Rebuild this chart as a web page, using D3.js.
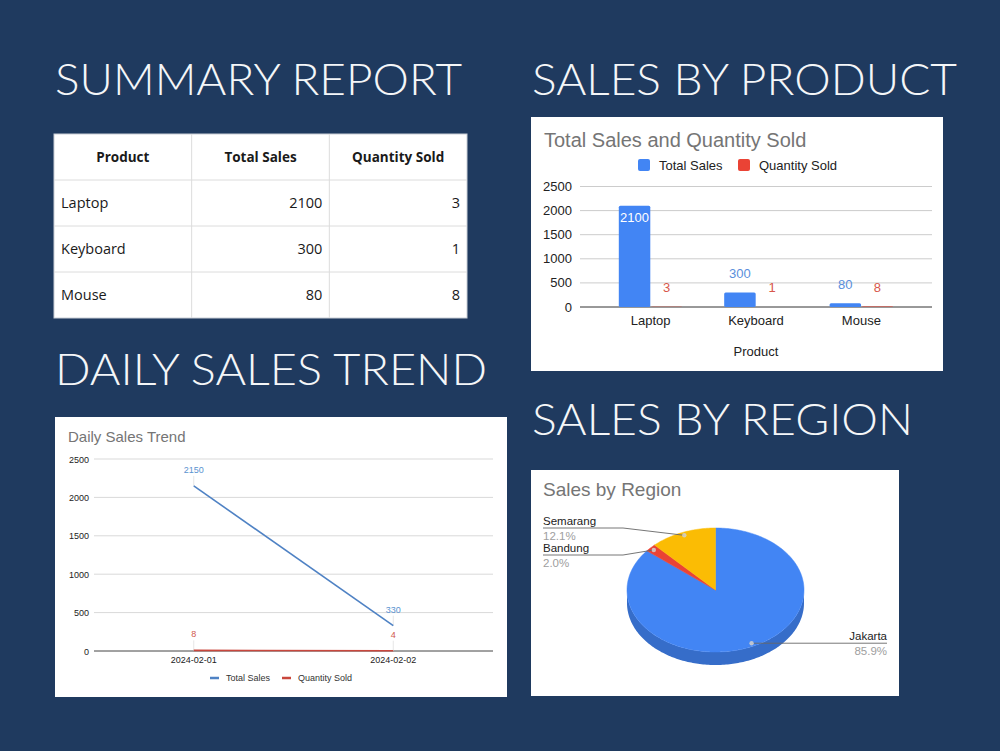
<!DOCTYPE html>
<html>
<head>
<meta charset="utf-8">
<script src="https://cdn.jsdelivr.net/npm/d3@7"></script>
<style>
  body { margin: 0; background: #1f3a5f; }
  svg { display: block; }
</style>
</head>
<body>
<div id="page"></div>
<script>
const products = ["Laptop", "Keyboard", "Mouse"];
const totalSales = [2100, 300, 80];
const quantitySold = [3, 1, 8];
const seriesNames = ["Total Sales", "Quantity Sold"];
const salesTicks = [0, 500, 1000, 1500, 2000, 2500];
const tableHeader = ["Product", "Total Sales", "Quantity Sold"];
const dates = ["2024-02-01", "2024-02-02"];
const dailySales = [2150, 330];
const dailyQty = [8, 4];
const regions = ["Jakarta", "Bandung", "Semarang"];
const regionSales = [2130, 50, 300];

const blue = "#4285f4", red = "#ea4335", yellow = "#fbbc04";
const arial = "'Liberation Sans', Arial, sans-serif";
const titleGrey = "#757575";

const svg = d3.select("#page").append("svg")
  .attr("width", 1000)
  .attr("height", 751);

svg.append("rect").attr("width", 1000).attr("height", 751).attr("fill", "#1f3a5f");

// big section headings
const headings = [
  { t: "SUMMARY REPORT", x: 55, y: 95, w: 407 },
  { t: "SALES BY PRODUCT", x: 532, y: 95, w: 425 },
  { t: "DAILY SALES TREND", x: 55, y: 385, w: 432 },
  { t: "SALES BY REGION", x: 532, y: 435, w: 381 }
];
svg.selectAll("text.heading")
  .data(headings)
  .enter().append("text")
  .attr("class", "heading")
  .attr("x", d => d.x)
  .attr("y", d => d.y)
  .attr("textLength", d => d.w)
  .attr("lengthAdjust", "spacingAndGlyphs")
  .attr("fill", "#f4f6f8")
  .style("font-family", "Lato, 'Open Sans', sans-serif")
  .style("font-weight", 300)
  .style("font-size", "44px")
  .text(d => d.t);

// ---- summary table ----
const tbl = svg.append("g");
const colX = d3.scaleBand().domain(tableHeader).range([54, 467]);
const rows = [tableHeader].concat(products.map((p, i) => [p, totalSales[i], quantitySold[i]]));
const rowY = d3.scaleBand().domain(d3.range(rows.length)).range([134, 318]);

tbl.append("rect")
  .attr("x", 54).attr("y", 134).attr("width", 413).attr("height", 184)
  .attr("fill", "#fff").attr("stroke", "#c9ced6");

tbl.selectAll("line.h")
  .data(d3.range(1, rows.length))
  .enter().append("line")
  .attr("x1", 54).attr("x2", 467)
  .attr("y1", d => rowY(d)).attr("y2", d => rowY(d))
  .attr("stroke", "#dcdcdc");

tbl.selectAll("line.v")
  .data(tableHeader.slice(1))
  .enter().append("line")
  .attr("y1", 134).attr("y2", 318)
  .attr("x1", d => colX(d)).attr("x2", d => colX(d))
  .attr("stroke", "#dcdcdc");

rows.forEach((row, ri) => {
  row.forEach((cell, ci) => {
    const col = tableHeader[ci];
    const t = tbl.append("text")
      .attr("y", rowY(ri) + rowY.bandwidth() / 2 + 5)
      .attr("fill", "#1a1a1a")
      .style("font-family", "'Open Sans', 'Noto Sans', sans-serif")
      .style("font-size", ri === 0 ? "13.5px" : "14.5px")
      .text(cell);
    if (ri === 0) {
      t.attr("x", colX(col) + colX.bandwidth() / 2).attr("text-anchor", "middle").style("font-weight", 700);
    } else if (ci === 0) {
      t.attr("x", colX(col) + 7);
    } else {
      t.attr("x", colX(col) + colX.bandwidth() - 7).attr("text-anchor", "end");
    }
  });
});

// ---- bar chart ----
const bc = svg.append("g");
bc.append("rect")
  .attr("x", 531).attr("y", 117).attr("width", 412).attr("height", 254)
  .attr("fill", "#fff");

bc.append("text")
  .attr("x", 544).attr("y", 147)
  .attr("fill", titleGrey)
  .style("font-family", arial).style("font-size", "20px")
  .text("Total Sales and Quantity Sold");

const yB = d3.scaleLinear().domain([0, 2500]).range([307, 186.5]);
const x0 = d3.scaleBand().domain(products).range([580, 932]).paddingOuter(0.17);
const x1 = d3.scaleBand().domain(seriesNames).range([0, x0.bandwidth()])
  .paddingOuter(0.65).paddingInner(0.02);

bc.selectAll("line.grid")
  .data(salesTicks)
  .enter().append("line")
  .attr("x1", 580).attr("x2", 932)
  .attr("y1", d => yB(d)).attr("y2", d => yB(d))
  .attr("stroke", d => d === 0 ? "#333" : "#cccccc");

bc.selectAll("text.ytick")
  .data(salesTicks)
  .enter().append("text")
  .attr("x", 572).attr("y", d => yB(d) + 4.5)
  .attr("text-anchor", "end")
  .attr("fill", "#222")
  .style("font-family", arial).style("font-size", "13px")
  .text(d => d);

const legendB = bc.selectAll("g.leg")
  .data(seriesNames)
  .enter().append("g")
  .attr("transform", (d, i) => `translate(${i ? 738 : 638},159)`);
legendB.append("rect").attr("width", 12).attr("height", 12).attr("rx", 2)
  .attr("fill", (d, i) => i ? red : blue);
legendB.append("text").attr("x", 21).attr("y", 10.5)
  .attr("fill", "#222")
  .style("font-family", arial).style("font-size", "13px")
  .text(d => d);

const barData = [];
products.forEach((p, i) => {
  barData.push({ p, s: seriesNames[0], v: totalSales[i], c: blue, lc: "#5a8fdc" });
  barData.push({ p, s: seriesNames[1], v: quantitySold[i], c: red, lc: "#d8574b" });
});

bc.selectAll("rect.bar")
  .data(barData)
  .enter().append("rect")
  .attr("x", d => x0(d.p) + x1(d.s))
  .attr("width", x1.bandwidth())
  .attr("y", d => yB(d.v))
  .attr("height", d => yB(0) - yB(d.v))
  .attr("rx", 1.5)
  .attr("fill", d => d.c);

bc.selectAll("text.val")
  .data(barData)
  .enter().append("text")
  .attr("x", d => x0(d.p) + x1(d.s) + x1.bandwidth() / 2)
  .attr("y", d => (yB(0) - yB(d.v) > 40) ? yB(d.v) + 16 : yB(d.v) - 14.5)
  .attr("text-anchor", "middle")
  .attr("fill", d => (yB(0) - yB(d.v) > 40) ? "#fff" : d.lc)
  .style("font-family", arial).style("font-size", "13px")
  .text(d => d.v);

bc.selectAll("text.xlab")
  .data(products)
  .enter().append("text")
  .attr("x", d => x0(d) + x0.bandwidth() / 2)
  .attr("y", 325)
  .attr("text-anchor", "middle")
  .attr("fill", "#222")
  .style("font-family", arial).style("font-size", "13px")
  .text(d => d);

bc.append("text")
  .attr("x", 756).attr("y", 356)
  .attr("text-anchor", "middle")
  .attr("fill", "#222")
  .style("font-family", arial).style("font-size", "13px")
  .text("Product");

// ---- line chart ----
const lc = svg.append("g");
lc.append("rect")
  .attr("x", 55).attr("y", 417).attr("width", 452).attr("height", 280)
  .attr("fill", "#fff");

lc.append("text")
  .attr("x", 68).attr("y", 442)
  .attr("fill", titleGrey)
  .style("font-family", arial).style("font-size", "15px")
  .text("Daily Sales Trend");

const yL = d3.scaleLinear().domain([0, 2500]).range([651, 459]);
const xL = d3.scalePoint().domain(dates).range([94, 493]).padding(0.5);

lc.selectAll("line.grid")
  .data(salesTicks.filter(d => d > 0))
  .enter().append("line")
  .attr("x1", 94).attr("x2", 493)
  .attr("y1", d => yL(d)).attr("y2", d => yL(d))
  .attr("stroke", "#d9d9d9");

lc.selectAll("text.ytick")
  .data(salesTicks)
  .enter().append("text")
  .attr("x", 89).attr("y", d => yL(d) + 3.5)
  .attr("text-anchor", "end")
  .attr("fill", "#222")
  .style("font-family", arial).style("font-size", "9px")
  .text(d => d);

lc.append("line")
  .attr("x1", 94).attr("x2", 493)
  .attr("y1", yL(0)).attr("y2", yL(0))
  .attr("stroke", "#444");

const lineSeries = [
  { name: seriesNames[0], vals: dailySales, c: "#4f82c4", lc: "#5b93cf" },
  { name: seriesNames[1], vals: dailyQty, c: "#c9473d", lc: "#d0594d" }
];
const line = d3.line().x((d, i) => xL(dates[i])).y(d => yL(d));

lineSeries.forEach(s => {
  // faint label stems
  lc.selectAll(null)
    .data(s.vals)
    .enter().append("line")
    .attr("x1", (d, i) => xL(dates[i])).attr("x2", (d, i) => xL(dates[i]))
    .attr("y1", d => yL(d) - 10).attr("y2", d => yL(d))
    .attr("stroke", "#e6e6e6");
  lc.append("path")
    .attr("d", line(s.vals))
    .attr("fill", "none")
    .attr("stroke", s.c)
    .attr("stroke-width", 1.6);
  lc.selectAll(null)
    .data(s.vals)
    .enter().append("text")
    .attr("x", (d, i) => xL(dates[i]))
    .attr("y", d => yL(d) - 13)
    .attr("text-anchor", "middle")
    .attr("fill", s.lc)
    .style("font-family", arial).style("font-size", "9px")
    .text(d => d);
});

lc.selectAll("text.xlab")
  .data(dates)
  .enter().append("text")
  .attr("x", d => xL(d)).attr("y", 663)
  .attr("text-anchor", "middle")
  .attr("fill", "#222")
  .style("font-family", arial).style("font-size", "9px")
  .text(d => d);

const legendL = lc.selectAll("g.leg")
  .data(lineSeries)
  .enter().append("g")
  .attr("transform", (d, i) => `translate(${i ? 282 : 210},678)`);
legendL.append("line").attr("x1", 0).attr("x2", 9)
  .attr("stroke", d => d.c).attr("stroke-width", 2.5);
legendL.append("text").attr("x", 16).attr("y", 3.2)
  .attr("fill", "#333")
  .style("font-family", arial).style("font-size", "9px")
  .text(d => d.name);

// ---- 3D pie ----
const pc = svg.append("g");
pc.append("rect")
  .attr("x", 531).attr("y", 470).attr("width", 368).attr("height", 226)
  .attr("fill", "#fff");

pc.append("text")
  .attr("x", 543).attr("y", 496)
  .attr("fill", titleGrey)
  .style("font-family", arial).style("font-size", "19px")
  .text("Sales by Region");

const cx = 715.5, cy = 590, rx = 88.5, ry = 62, depth = 13;
const pieColors = d3.scaleOrdinal().domain(regions).range([blue, red, yellow]);
const arcs = d3.pie().sort(null).value(d => d)(regionSales);
const total = d3.sum(regionSales);
const pct = d3.format(".1%");

function pt(a, r, dy) {
  return [cx + rx * r * Math.sin(a), cy - ry * r * Math.cos(a) + (dy || 0)];
}
function arcPts(a0, a1, dy) {
  const n = Math.max(2, Math.ceil((a1 - a0) / 0.02));
  return d3.range(n + 1).map(k => pt(a0 + (a1 - a0) * k / n, 1, dy));
}

// side walls (front half only)
arcs.forEach((a, i) => {
  const s = Math.max(a.startAngle, Math.PI / 2);
  const e = Math.min(a.endAngle, Math.PI * 1.5);
  if (s >= e) return;
  const pts = arcPts(s, e, 0).concat(arcPts(s, e, depth).reverse());
  pc.append("path")
    .attr("d", "M" + pts.join("L") + "Z")
    .attr("fill", d3.color(pieColors(regions[i])).darker(0.55));
});

// top faces
arcs.forEach((a, i) => {
  const pts = [[cx, cy]].concat(arcPts(a.startAngle, a.endAngle, 0));
  pc.append("path")
    .attr("d", "M" + pts.join("L") + "Z")
    .attr("fill", pieColors(regions[i]))
    .attr("stroke", pieColors(regions[i]))
    .attr("stroke-width", 0.5);
});

// labels with leader lines
const labelPos = { Jakarta: { side: "right", u: null }, Bandung: { side: "left", u: 555 }, Semarang: { side: "left", u: 528 } };
arcs.forEach((a, i) => {
  const name = regions[i];
  const mid = (a.startAngle + a.endAngle) / 2;
  const p = pt(mid, 0.95, 0);
  const lp = labelPos[name];
  let u, tx, anchor, path;
  if (lp.side === "right") {
    u = p[1]; tx = 887; anchor = "end";
    path = `M${p[0]},${u}L${tx},${u}`;
  } else {
    u = lp.u; tx = 543; anchor = "start";
    path = `M${p[0]},${p[1]}L623,${u}L${tx},${u}`;
  }
  pc.append("path").attr("d", path).attr("fill", "none").attr("stroke", "#666").attr("stroke-width", 0.9);
  pc.append("circle").attr("cx", p[0]).attr("cy", p[1]).attr("r", 2.2).attr("fill", "#d0d0d0").attr("opacity", 0.85);
  pc.append("text")
    .attr("x", tx).attr("y", u - 3)
    .attr("text-anchor", anchor)
    .attr("fill", "#222")
    .style("font-family", arial).style("font-size", "11.5px")
    .text(name);
  pc.append("text")
    .attr("x", tx).attr("y", u + 11.5)
    .attr("text-anchor", anchor)
    .attr("fill", "#9e9e9e")
    .style("font-family", arial).style("font-size", "11.5px")
    .text(pct(regionSales[i] / total));
});
</script>
</body>
</html>
